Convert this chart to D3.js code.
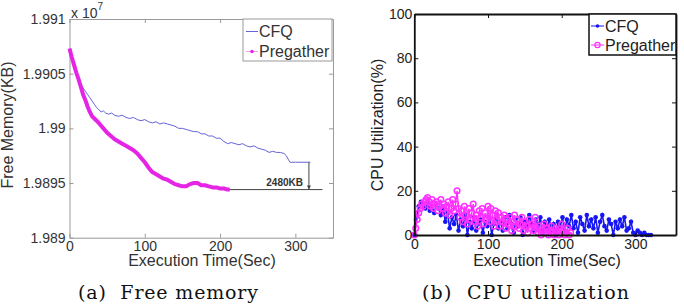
<!DOCTYPE html>
<html>
<head>
<meta charset="utf-8">
<script src="https://cdn.jsdelivr.net/npm/d3@7"></script>
<style>
  body { margin: 0; background: #fff; }
  svg { display: block; }
  text { font-family: "Liberation Sans", Arial, sans-serif; }
  .cap { font-family: "DejaVu Serif", serif; white-space: pre; }
</style>
</head>
<body>
<div id="chart"></div>
<script>
// (a) free memory, values in units of 1e7 KB
const memCfq = [
  [0,1.99072],[3,1.99064],[6,1.99057],[9,1.9905],[12,1.99045],[15,1.99041],[18,1.99037],
  [21,1.99034],[24,1.99031],[27,1.99028],[30,1.99025],[33,1.99022],[36,1.99019],[39,1.99017],
  [42,1.99015],[45,1.99016],[48,1.99014],[52,1.99013],[56,1.99014],[60,1.99012],[65,1.99011],
  [70,1.99012],[75,1.9901],[80,1.99009],[85,1.9901],[90,1.99008],[95,1.99007],[100,1.99008],
  [105,1.99006],[110,1.99005],[115,1.99006],[120,1.99004],[125,1.99005],[130,1.99004],
  [135,1.99003],[140,1.99002],[145,1.99],[150,1.99],[155,1.98999],[160,1.98998],[165,1.98997],
  [170,1.98997],[175,1.98995],[180,1.98995],[185,1.98993],[190,1.98993],[195,1.98991],
  [200,1.98991],[205,1.98988],[210,1.98986],[215,1.98987],[220,1.98986],[225,1.98985],
  [230,1.98986],[235,1.98984],[240,1.98983],[245,1.98984],[250,1.98982],[255,1.98981],
  [260,1.9898],[265,1.98978],[270,1.98979],[275,1.98978],[280,1.98978],[285,1.98977],
  [288,1.98975],[291,1.98971],[293,1.98969],[300,1.98969],[310,1.98969],[320,1.98969]
]
const memPregather = [
  [0,1.99073],[3,1.99065],[6,1.99058],[9,1.99051],[12,1.99045],[15,1.99038],[18,1.99031],
  [21,1.99026],[24,1.9902],[27,1.99015],[30,1.99011],[33,1.99009],[36,1.99007],[40,1.99004],
  [45,1.99],[50,1.98996],[55,1.98993],[60,1.9899],[65,1.98988],[70,1.98986],[75,1.98984],
  [80,1.98982],[85,1.9898],[90,1.98977],[95,1.98973],[100,1.98969],[105,1.98964],[110,1.9896],
  [115,1.98958],[120,1.98956],[125,1.98954],[130,1.98953],[135,1.98951],[140,1.98949],
  [145,1.98948],[150,1.98947],[155,1.98947],[160,1.98949],[165,1.9895],[170,1.9895],
  [175,1.98948],[180,1.98948],[185,1.98947],[190,1.98946],[195,1.98946],[200,1.98945],
  [205,1.98945],[210,1.98944],[213,1.98944]
]
const memTicksY = [1.989, 1.9895, 1.99, 1.9905, 1.991]
const timeTicks = [0, 100, 200, 300]
const gapLabel = "2480KB"

// (b) CPU utilization (%)
const cpuStepCfq = 3   // seconds between samples
const cpuCfq = [
  0, 8, 13, 15, 14,
  12, 15, 11, 13, 10, 14, 12, 9, 13,
  6, 10, 3, 8, 5, 9, 2,
  7, 4, 9, 0, 6, 3, 8, 2, 5, 7, 1, 6, 4, 8, 0, 5, 9, 3, 6, 2,
  8, 3, 9, 5, 1, 7, 4, 8, 0, 6, 3, 9, 5, 2, 7, 4, 8, 1, 6, 3, 7, 2, 5, 0, 6, 4, 8,
  2, 7, 4, 9, 3, 6, 1, 8, 5, 2, 9, 4, 7, 3, 8, 1, 6, 9, 4, 2, 7, 5, 0, 6, 3, 7, 4, 8, 2,
  3, 6, 1, 0, 2, 1, 0, 1, 0, 0, 0
]
const cpuStepPregather = 2
const cpuPregather = [
  0, 3, 7, 10, 12, 14, 13, 15, 16, 17, 15,
  13, 16, 12, 14, 15, 11, 13, 16, 12, 14, 10, 13, 15, 9, 12, 16, 11, 14,
  20, 12,
  8, 11, 6, 13, 9, 5, 12, 7, 10, 14, 6, 9, 4, 11, 8, 12, 5, 10, 7, 13, 6, 12, 9, 4, 11,
  7, 10, 4, 8, 6, 9, 3, 7, 5, 8, 2, 6, 9, 4, 7, 3, 5, 8, 2, 6, 4, 1, 7, 3, 5,
  2, 8, 3, 1, 4, 0, 2, 5, 1, 3, 0, 2, 4, 1, 0, 3, 2, 0, 1, 5, 2, 0, 1, 3, 0, 1
]
const cpuTicksY = [0, 20, 40, 60, 80, 100]

const W = 684, H = 305
const svg = d3.select("#chart").append("svg").attr("width", W).attr("height", H)

// ---------- panel (a) ----------
const a = { left: 69.5, right: 333, top: 19, bottom: 237.7 }
const xa = d3.scaleLinear().domain([0, 350]).range([a.left, a.right])
const ya = d3.scaleLinear().domain([1.989, 1.991]).range([a.bottom, a.top])
const ga = svg.append("g")

function styleAxis(g, col, txt) {
  g.select(".domain").attr("stroke", col)
  g.selectAll(".tick line").attr("stroke", col)
  g.selectAll("text").attr("fill", txt).style("font-size", "14px")
}

ga.append("g").attr("transform", `translate(0,${a.bottom})`)
  .call(d3.axisBottom(xa).tickValues(timeTicks).tickSize(-4).tickSizeOuter(0).tickPadding(3))
  .call(g => styleAxis(g, "#999", "#333"))
ga.append("g").attr("transform", `translate(0,${a.top})`)
  .call(d3.axisTop(xa).tickValues(timeTicks).tickSize(-4).tickSizeOuter(0).tickFormat(""))
  .call(g => styleAxis(g, "#999", "#333"))
ga.append("g").attr("transform", `translate(${a.left},0)`)
  .call(d3.axisLeft(ya).tickValues(memTicksY).tickSize(-4).tickSizeOuter(0).tickPadding(4)
    .tickFormat(d => String(+d.toFixed(4))))
  .call(g => styleAxis(g, "#999", "#333"))
ga.append("g").attr("transform", `translate(${a.right},0)`)
  .call(d3.axisRight(ya).tickValues(memTicksY).tickSize(-4).tickSizeOuter(0).tickFormat(""))
  .call(g => styleAxis(g, "#999", "#333"))

const lineA = d3.line().x(d => xa(d[0])).y(d => ya(d[1]))
ga.append("path").datum(memCfq).attr("d", lineA)
  .attr("fill", "none").attr("stroke", "#6464d8").attr("stroke-width", 1)
ga.append("path").datum(memPregather).attr("d", lineA)
  .attr("fill", "none").attr("stroke", "#e524e5").attr("stroke-width", 4)
  .attr("stroke-linejoin", "round")

// gap annotation
const endP = memPregather[memPregather.length - 1]
const endC = memCfq[memCfq.length - 1]
ga.append("line")
  .attr("x1", xa(endP[0])).attr("x2", xa(336))
  .attr("y1", ya(endP[1])).attr("y2", ya(endP[1]))
  .attr("stroke", "#444").attr("stroke-width", 1)
ga.append("line")
  .attr("x1", xa(318)).attr("x2", xa(318))
  .attr("y1", ya(endC[1])).attr("y2", ya(endP[1]))
  .attr("stroke", "#444").attr("stroke-width", 1)
ga.append("path")
  .attr("d", `M${xa(318) - 2},${ya(endP[1]) - 4}L${xa(318)},${ya(endP[1])}L${xa(318) + 2},${ya(endP[1]) - 4}Z`)
  .attr("fill", "#444")
ga.append("text").attr("x", 303).attr("y", 186)
  .attr("text-anchor", "end").style("font-size", "10px").style("font-weight", "bold")
  .attr("fill", "#333").text(gapLabel)

// exponent
const ex = ga.append("text").attr("x", 71).attr("y", 18).attr("fill", "#333").style("font-size", "14px")
ex.append("tspan").text("x 10")
ex.append("tspan").attr("dy", -8).style("font-size", "10px").text("7")

ga.append("text").attr("x", 202).attr("y", 266).attr("text-anchor", "middle")
  .style("font-size", "16px").attr("fill", "#333").text("Execution Time(Sec)")
ga.append("text").attr("transform", "translate(13,125) rotate(-90)").attr("text-anchor", "middle")
  .style("font-size", "16px").attr("fill", "#333").text("Free Memory(KB)")

// legend (a)
const la = ga.append("g")
la.append("rect").attr("x", 243).attr("y", 19).attr("width", 89).attr("height", 42)
  .attr("fill", "#fff").attr("stroke", "#999")
la.append("line").attr("x1", 246).attr("x2", 258).attr("y1", 31.5).attr("y2", 31.5)
  .attr("stroke", "#6464d8")
la.append("line").attr("x1", 246).attr("x2", 258).attr("y1", 51.5).attr("y2", 51.5)
  .attr("stroke", "#f0a0f0")
la.append("circle").attr("cx", 252).attr("cy", 51.5).attr("r", 1.8).attr("fill", "#e524e5")
la.append("text").attr("x", 259).attr("y", 37.3).style("font-size", "16px").attr("fill", "#333").text("CFQ")
la.append("text").attr("x", 259).attr("y", 57.3).style("font-size", "16px").attr("fill", "#333").text("Pregather")

svg.append("text").attr("class", "cap").attr("x", 78).attr("y", 299)
  .attr("textLength", 180).attr("lengthAdjust", "spacing")
  .style("font-size", "19px").attr("fill", "#111").text("(a)  Free memory")

// ---------- panel (b) ----------
const b = { left: 414.3, right: 676, top: 14, bottom: 235 }
const xb = d3.scaleLinear().domain([0, 355]).range([b.left, b.right])
const yb = d3.scaleLinear().domain([0, 100]).range([b.bottom, b.top])
const gb = svg.append("g")

const cfqPts = cpuCfq.map((v, i) => [i * cpuStepCfq, v])
const prePts = cpuPregather.map((v, i) => [i * cpuStepPregather, v])
const lineB = d3.line().x(d => xb(d[0])).y(d => yb(d[1]))

gb.append("path").datum(cfqPts).attr("d", lineB)
  .attr("fill", "none").attr("stroke", "#1515f5").attr("stroke-width", 1.6)
gb.selectAll("circle.cfq").data(cfqPts).join("circle").attr("class", "cfq")
  .attr("cx", d => xb(d[0])).attr("cy", d => yb(d[1])).attr("r", 2.3).attr("fill", "#1515f5")
gb.append("path").datum(prePts).attr("d", lineB)
  .attr("fill", "none").attr("stroke", "#ff30ff").attr("stroke-width", 1.4)
gb.selectAll("circle.pre").data(prePts).join("circle").attr("class", "pre")
  .attr("cx", d => xb(d[0])).attr("cy", d => yb(d[1])).attr("r", 2.8)
  .attr("fill", "none").attr("stroke", "#ff30ff").attr("stroke-width", 1.5)

gb.append("g").attr("transform", `translate(0,${b.bottom})`)
  .call(d3.axisBottom(xb).tickValues(timeTicks).tickSize(-4).tickSizeOuter(0).tickPadding(4))
  .call(g => styleAxis(g, "#111", "#222"))
gb.append("g").attr("transform", `translate(0,${b.top})`)
  .call(d3.axisTop(xb).tickValues(timeTicks).tickSize(-4).tickSizeOuter(0).tickFormat(""))
  .call(g => styleAxis(g, "#111", "#222"))
gb.append("g").attr("transform", `translate(${b.left},0)`)
  .call(d3.axisLeft(yb).tickValues(cpuTicksY).tickSize(-4).tickSizeOuter(0).tickPadding(2))
  .call(g => styleAxis(g, "#111", "#222"))
gb.append("g").attr("transform", `translate(${b.right},0)`)
  .call(d3.axisRight(yb).tickValues(cpuTicksY).tickSize(-4).tickSizeOuter(0).tickFormat(""))
  .call(g => styleAxis(g, "#111", "#222"))
gb.selectAll(".domain").attr("stroke-width", 1.8)

gb.append("text").attr("x", 547).attr("y", 266).attr("text-anchor", "middle")
  .style("font-size", "16px").attr("fill", "#222").text("Execution Time(Sec)")
gb.append("text").attr("transform", "translate(383,125) rotate(-90)").attr("text-anchor", "middle")
  .style("font-size", "16px").attr("fill", "#222").text("CPU Utilization(%)")

// legend (b)
const lb = gb.append("g")
lb.append("rect").attr("x", 589).attr("y", 14).attr("width", 87).attr("height", 41)
  .attr("fill", "#fff").attr("stroke", "#111").attr("stroke-width", 1.5)
lb.append("line").attr("x1", 591).attr("x2", 604).attr("y1", 26).attr("y2", 26).attr("stroke", "#1515f5")
lb.append("circle").attr("cx", 597.5).attr("cy", 26).attr("r", 1.8).attr("fill", "#1515f5")
lb.append("line").attr("x1", 591).attr("x2", 604).attr("y1", 45).attr("y2", 45).attr("stroke", "#ff30ff")
lb.append("circle").attr("cx", 597.5).attr("cy", 45).attr("r", 2.6)
  .attr("fill", "none").attr("stroke", "#ff30ff").attr("stroke-width", 1.2)
lb.append("text").attr("x", 605).attr("y", 31.7).style("font-size", "16px").attr("fill", "#222").text("CFQ")
lb.append("text").attr("x", 605).attr("y", 50.7).style("font-size", "16px").attr("fill", "#222").text("Pregather")

svg.append("text").attr("class", "cap").attr("x", 422).attr("y", 299)
  .attr("textLength", 207).attr("lengthAdjust", "spacing")
  .style("font-size", "19px").attr("fill", "#111").text("(b)  CPU utilization")
</script>
</body>
</html>
